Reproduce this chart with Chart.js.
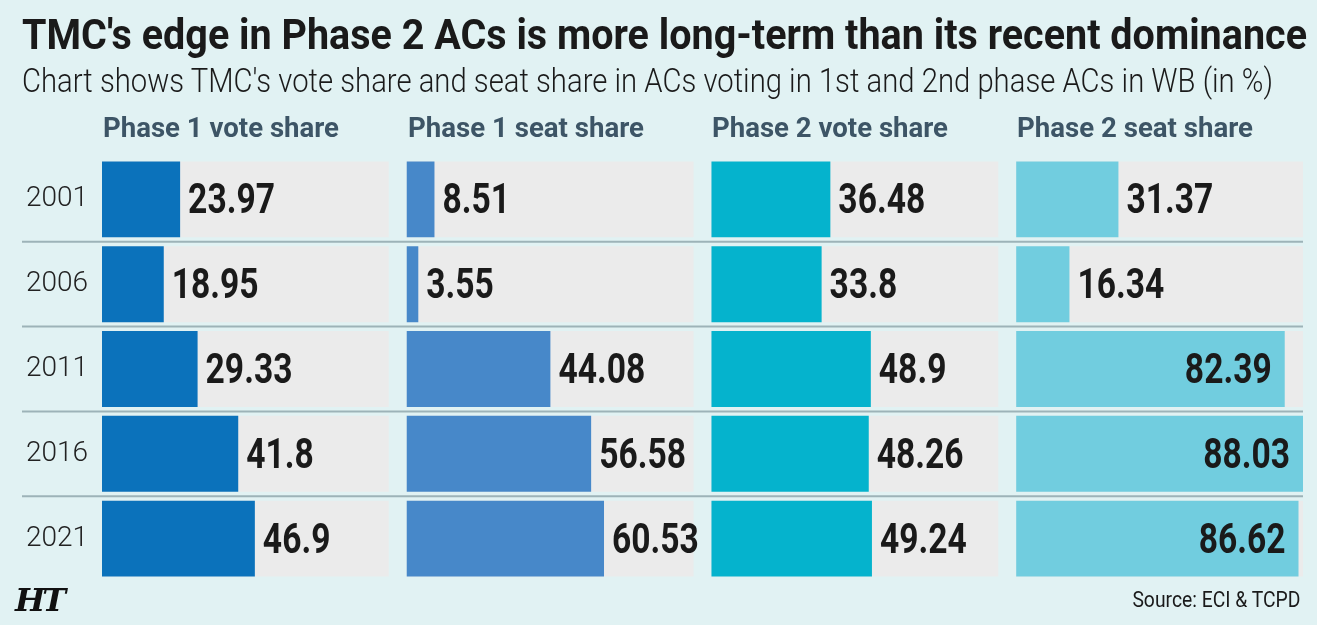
<!DOCTYPE html>
<html>
<head>
<meta charset="utf-8">
<script src="https://cdn.jsdelivr.net/npm/chart.js@4.4.1/dist/chart.umd.min.js"></script>
<style>
    html, body { margin: 0; padding: 0; background: #e1f2f3; }
    #wrap { position: relative; width: 1317px; height: 625px; overflow: hidden; background: #e1f2f3; }
    #myChart { position: absolute; left: 0; top: 0; }
    .txt { position: absolute; white-space: nowrap; line-height: 1; font-family: Roboto, sans-serif; transform-origin: 0 0; }
    #title { left: 22px; top: 14px; font-size: 42px; font-weight: 700; color: #1a1a1a; }
    #subtitle { left: 22px; top: 63px; font-size: 34px; font-weight: 300; color: #1a1a1a; }
    .head { top: 114px; font-size: 28px; font-weight: 700; color: #3d5566; }
    #source { right: 17px; top: 589px; font-size: 22px; color: #1a1a1a; transform-origin: 100% 0; }
    #logo { left: 15px; top: 584px; font-family: "DejaVu Serif", serif; font-size: 32px; font-weight: 700; font-style: italic; color: #111; letter-spacing: -3px; }
</style>
</head>
<body>
<div id="wrap">
    <canvas id="myChart" width="1317" height="625"></canvas>
    <div class="txt" id="title">TMC's edge in Phase 2 ACs is more long-term than its recent dominance</div>
    <div class="txt" id="subtitle">Chart shows TMC's vote share and seat share in ACs voting in 1st and 2nd phase ACs in WB (in %)</div>
    <div class="txt" id="source">Source: ECI &amp; TCPD</div>
    <div class="txt" id="logo">HT</div>
</div>
<script>
const years = ['2001', '2006', '2011', '2016', '2021'];
const phase1Vote = [23.97, 18.95, 29.33, 41.8, 46.9];
const phase1Seat = [8.51, 3.55, 44.08, 56.58, 60.53];
const phase2Vote = [36.48, 33.8, 48.9, 48.26, 49.24];
const phase2Seat = [31.37, 16.34, 82.39, 88.03, 86.62];
const panelNames = ['Phase 1 vote share', 'Phase 1 seat share', 'Phase 2 vote share', 'Phase 2 seat share'];
const panelColors = ['#0b72bb', '#4788c9', '#05b3cd', '#71cddf'];

const series = [phase1Vote, phase1Seat, phase2Vote, phase2Seat];
const PANEL_MAX = 88;   // width of the grey track, in %
const PANEL_GAP = 5.5;  // gap between panels, in %
const PITCH = PANEL_MAX + PANEL_GAP;

// squeeze a text element horizontally so it spans the given width
function fitText(el, width) {
    const w = el.getBoundingClientRect().width;
    el.style.transform = 'scaleX(' + (width / w) + ')';
}

// value bars, then grey tracks behind them
const datasets = [];
series.forEach((values, p) => {
    datasets.push({
        label: panelNames[p],
        data: values.map(v => [p * PITCH, p * PITCH + v]),
        backgroundColor: panelColors[p],
        raw: values,
        grouped: false,
        order: 0
    });
});
series.forEach((values, p) => {
    datasets.push({
        label: 'track',
        data: values.map(() => [p * PITCH, p * PITCH + PANEL_MAX]),
        backgroundColor: '#ebebeb',
        grouped: false,
        order: 1
    });
});

const separators = {
    id: 'separators',
    beforeDatasetsDraw(chart) {
        const ctx = chart.ctx;
        const y = chart.scales.y;
        ctx.save();
        ctx.strokeStyle = '#9db3b8';
        ctx.lineWidth = 2;
        for (let i = 1; i < years.length; i++) {
            const yy = (y.getPixelForValue(i - 1) + y.getPixelForValue(i)) / 2;
            ctx.beginPath();
            ctx.moveTo(22, yy);
            ctx.lineTo(chart.chartArea.right, yy);
            ctx.stroke();
        }
        ctx.restore();
    }
};

const valueLabels = {
    id: 'valueLabels',
    afterDatasetsDraw(chart) {
        const ctx = chart.ctx;
        ctx.save();
        ctx.font = 'bold 42px Roboto';
        ctx.fillStyle = '#1a1a1a';
        ctx.textBaseline = 'alphabetic';
        chart.data.datasets.forEach((ds, di) => {
            if (!ds.raw) return;
            chart.getDatasetMeta(di).data.forEach((bar, i) => {
                const v = ds.raw[i];
                const text = String(v);
                const squeeze = 0.8;
                const w = ctx.measureText(text).width * squeeze;
                const inside = v > 75;
                const x = inside ? bar.x - 13 - w : bar.x + 8;
                ctx.save();
                ctx.translate(x, bar.y + 14);
                ctx.scale(squeeze, 1);
                ctx.fillText(text, 0, 0);
                ctx.restore();
            });
        });
        ctx.restore();
    }
};

const ctx = document.getElementById('myChart').getContext('2d');
const myChart = new Chart(ctx, {
    type: 'bar',
    data: {
        labels: years,
        datasets: datasets
    },
    options: {
        indexAxis: 'y',
        responsive: false,
        animation: false,
        devicePixelRatio: 1,
        barPercentage: 1,
        categoryPercentage: 0.895,
        layout: {
            padding: { top: 157, right: 14, bottom: 44, left: 0 }
        },
        plugins: {
            legend: { display: false },
            tooltip: { enabled: false }
        },
        scales: {
            x: {
                display: false,
                min: 0,
                max: 4 * PANEL_MAX + 3 * PANEL_GAP
            },
            y: {
                afterFit: scale => { scale.width = 102; },
                grid: { display: false, drawTicks: false },
                border: { display: false },
                ticks: {
                    padding: 14,
                    color: '#222',
                    font: { family: 'Roboto', size: 28, weight: 300 }
                }
            }
        }
    },
    plugins: [separators, valueLabels]
});

// panel headings sit at the start of each panel on the x scale
const wrap = document.getElementById('wrap');
panelNames.forEach((name, p) => {
    const el = document.createElement('div');
    el.className = 'txt head';
    el.textContent = name;
    el.style.left = (myChart.scales.x.getPixelForValue(p * PITCH) + 1) + 'px';
    wrap.appendChild(el);
    fitText(el, 236);
});
fitText(document.getElementById('title'), 1285);
fitText(document.getElementById('subtitle'), 1251);
fitText(document.getElementById('source'), 168);
</script>
</body>
</html>
